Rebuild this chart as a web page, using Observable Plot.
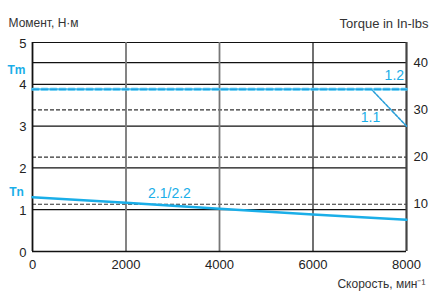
<!DOCTYPE html>
<html><head><meta charset="utf-8">
<script src="https://cdn.jsdelivr.net/npm/d3@7"></script>
<script src="https://cdn.jsdelivr.net/npm/@observablehq/plot@0.6"></script>
<style>body{margin:0;background:#fff;font-family:"Liberation Sans",Arial,sans-serif}</style>
</head><body><div id="chart"></div>
<script>
// Data
const speedTicks = [0, 2000, 4000, 6000, 8000];
const torqueTicks = [0, 1, 2, 3, 4, 5];
const inlbTicks = [10, 20, 30, 40];
const NM_TO_INLB = 8.8507;
const curve12Speed = [0, 8000];
const curve12Torque = [3.88, 3.88];
const curve11Speed = [0, 7250, 8000];
const curve11Torque = [3.88, 3.88, 3.0];
const curve21Speed = [0, 2000, 4000, 6000, 8000];
const curve21Torque = [1.30, 1.165, 1.02, 0.885, 0.76];
const Tm = 4.33, Tn = 1.42;

const blue = "#1aaee8";
const c12 = curve12Speed.map((x, i) => ({x, y: curve12Torque[i]}));
const c11 = curve11Speed.map((x, i) => ({x, y: curve11Torque[i]}));
const c21 = curve21Speed.map((x, i) => ({x, y: curve21Torque[i]}));
const inlbNm = inlbTicks.map(t => ({t, y: t / NM_TO_INLB}));

const plot = Plot.plot({
  width: 432, height: 292,
  marginLeft: 32, marginRight: 26, marginTop: 42, marginBottom: 41,
  style: {fontFamily: "Liberation Sans, Arial, sans-serif", fontSize: "13px", color: "#222", background: "#fff"},
  x: {domain: [0, 8000]},
  y: {domain: [0, 5]},
  marks: [
    // horizontal Nm grid
    Plot.ruleY(torqueTicks.slice(1), {stroke: "#111", strokeWidth: 1.2}),
    // in-lbs grid
    Plot.ruleY(inlbNm.filter(d => d.t < 40), {y: "y", stroke: "#333", strokeWidth: 1.2, strokeDasharray: "4,2"}),
    Plot.ruleY(inlbNm.filter(d => d.t === 40), {y: "y", stroke: "#111", strokeWidth: 1.2}),
    // vertical grid
    Plot.ruleX([2000, 4000], {stroke: "#777", strokeWidth: 1.8}),
    Plot.ruleX([6000], {stroke: "#111", strokeWidth: 1.2}),
    Plot.ruleX([0], {stroke: "#111", strokeWidth: 1.8}),
    Plot.ruleX([8000], {stroke: "#444", strokeWidth: 2.2}),
    Plot.ruleY([0], {stroke: "#111", strokeWidth: 1.5}),
    // curves
    Plot.line(c21, {x: "x", y: "y", stroke: blue, strokeWidth: 2.5}),
    Plot.line(c11, {x: "x", y: "y", stroke: "#2a9fd8", strokeWidth: 1.6, strokeDasharray: "3,1.5"}),
    Plot.line(c12, {x: "x", y: "y", stroke: "#4cc2f0", strokeWidth: 3, strokeDasharray: "6,3"}),
    Plot.line(c12, {x: "x", y: "y", stroke: "#1899dc", strokeWidth: 1, strokeDasharray: "6,3"}),
    // curve labels
    Plot.text(["1.2"], {x: 7740, y: 4.2, fill: blue, fontSize: 14}),
    Plot.text(["1.1"], {x: 7230, y: 3.2, fill: blue, fontSize: 14}),
    Plot.text(["2.1/2.2"], {x: 2930, y: 1.39, fill: blue, fontSize: 14}),
    Plot.text(["Tm"], {x: 0, y: Tm, dx: -16, fill: blue, fontSize: 12, fontWeight: "bold"}),
    Plot.text(["Tn"], {x: 0, y: Tn, dx: -16, fill: blue, fontSize: 12, fontWeight: "bold"}),
    // axes
    Plot.axisY(torqueTicks, {anchor: "left", tickSize: 0, tickPadding: 6, fontSize: 13, label: null, dy: 1}),
    Plot.axisY(inlbNm.map(d => d.y), {anchor: "right", tickSize: 0, tickPadding: 7, fontSize: 13, label: null, tickFormat: d => String(Math.round(d * NM_TO_INLB))}),
    Plot.axisX(speedTicks, {anchor: "bottom", tickSize: 0, tickPadding: 8, fontSize: 13, label: null, tickFormat: d => String(d)}),
    // axis titles
    Plot.text(["Момент, Н·м"], {frameAnchor: "top-left", dx: -24, dy: -24, textAnchor: "start", fontSize: 12, fill: "#333"}),
    Plot.text(["Torque in In-lbs"], {frameAnchor: "top-right", dx: 22, dy: -24, textAnchor: "end", fontSize: 13, fill: "#333"}),
    Plot.text(["Скорость, мин⁻¹"], {frameAnchor: "bottom-right", dx: 19, dy: 36, textAnchor: "end", fontSize: 12, fill: "#333"})
  ]
});
document.getElementById("chart").append(plot);
</script></body></html>
